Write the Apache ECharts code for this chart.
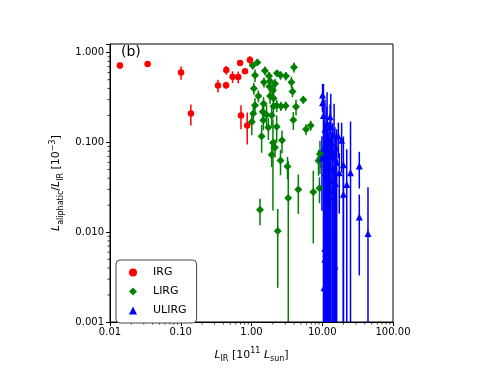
<!DOCTYPE html>
<html>
<head>
<meta charset="utf-8">
<script src="https://cdn.jsdelivr.net/npm/echarts@6/dist/echarts.min.js"></script>
<style>
html, body { margin: 0; padding: 0; background: #fff; }
#chart { width: 490px; height: 368px; }
</style>
</head>
<body>
<div id="chart"></div>
<script>
// each row: [L_IR (1e11 Lsun), L_aliphatic/L_IR (1e-3), error]
const irgData = [
    [0.0138, 0.72, 0.06], [0.034, 0.748, 0.04], [0.101, 0.60, 0.10], [0.139, 0.21, 0.055],
    [0.336, 0.43, 0.07], [0.437, 0.435, 0.04], [0.44, 0.64, 0.07], [0.54, 0.54, 0.08],
    [0.65, 0.537, 0.08], [0.69, 0.77, 0.03], [0.81, 0.62, 0.03], [0.95, 0.83, 0.09],
    [0.71, 0.20, 0.06], [0.87, 0.155, 0.06]
];
const lirgData = [
    [1.04, 0.72, 0.07], [1.21, 0.78, 0.06], [1.12, 0.56, 0.09], [1.55, 0.63, 0.07],
    [1.77, 0.55, 0.06], [1.50, 0.47, 0.06], [1.83, 0.485, 0.07], [2.29, 0.59, 0.05],
    [2.57, 0.56, 0.06], [3.07, 0.55, 0.06], [3.99, 0.69, 0.09], [1.08, 0.40, 0.06],
    [1.79, 0.42, 0.05], [2.15, 0.45, 0.06], [2.01, 0.38, 0.06], [3.67, 0.47, 0.07],
    [3.80, 0.37, 0.05], [1.25, 0.33, 0.05], [1.83, 0.33, 0.06], [2.05, 0.31, 0.07],
    [1.12, 0.26, 0.05], [1.48, 0.27, 0.05], [2.04, 0.254, 0.05], [2.27, 0.258, 0.04],
    [2.61, 0.254, 0.03], [3.04, 0.256, 0.03], [5.40, 0.30, 0.03], [4.26, 0.25, 0.05],
    [1.06, 0.21, 0.05], [1.44, 0.22, 0.04], [1.63, 0.204, 0.06], [1.93, 0.20, 0.05],
    [3.90, 0.178, 0.04], [1.47, 0.177, 0.04], [1.01, 0.17, 0.05], [6.87, 0.155, 0.02],
    [5.89, 0.14, 0.02], [1.73, 0.147, 0.04], [1.39, 0.117, 0.04], [2.27, 0.15, 0.05],
    [2.01, 0.0995, 0.082], [2.70, 0.106, 0.03], [2.15, 0.088, 0.02], [1.93, 0.073, 0.02],
    [2.57, 0.063, 0.02], [3.23, 0.054, 0.015], [1.32, 0.0178, 0.0058], [2.35, 0.0103, 0.0079],
    [3.31, 0.024, 0.038], [4.59, 0.030, 0.014], [7.47, 0.028, 0.0205], [8.85, 0.0625, 0.02],
    [9.29, 0.0745, 0.03], [9.14, 0.031, 0.01], [9.45, 0.067, 0.015]
];
const ulirgData = [
    [10.1, 0.338, 0.11], [10.1, 0.277, 0.06], [12.9, 0.194, 0.07], [11.7, 0.163, 0.2],
    [10.9, 0.140, 0.16], [16.9, 0.117, 0.05], [18.8, 0.106, 0.06], [11.3, 0.0727, 0.09],
    [15.1, 0.0673, 0.08], [19.9, 0.0565, 0.06], [22.2, 0.0341, 0.05], [11.0, 0.0461, 0.05],
    [12.2, 0.0524, 0.07], [12.9, 0.0293, 0.04], [14.3, 0.0246, 0.03], [17.4, 0.0461, 0.03],
    [19.9, 0.0265, 0.03], [25.1, 0.046, 0.125], [33.4, 0.0547, 0.024], [33.4, 0.0148, 0.0115],
    [44.3, 0.0097, 0.022], [10.9, 0.0066, 0.01], [10.9, 0.0050, 0.008], [10.6, 0.0024, 0.004],
    [15.1, 0.0042, 0.006], [11.3, 0.0058, 0.009], [10.6, 0.0867, 0.1], [13.5, 0.0984, 0.03],
    [15.6, 0.0867, 0.03], [12.0, 0.111, 0.04], [9.9, 0.0673, 0.05], [12.9, 0.038, 0.06],
    [11.5, 0.10, 0.15], [12.5, 0.07, 0.1], [13.8, 0.05, 0.08], [14.7, 0.12, 0.15],
    [16.0, 0.06, 0.08], [10.4, 0.20, 0.25], [13.2, 0.15, 0.2], [14.0, 0.075, 0.09],
    [11.9, 0.033, 0.04], [15.4, 0.035, 0.05]
];
const xTicks = [0.01, 0.1, 1, 10, 100];
const yTicks = [0.001, 0.01, 0.1, 1];
const minorSteps = [2, 3, 4, 5, 6, 7, 8, 9];
const xMinorDecades = [0.01, 0.1, 1, 10];
const yMinorDecades = [0.001, 0.01, 0.1];

const font = 'DejaVu Sans';
const xMin = 0.01, xMax = 100, yMin = 0.001, yMax = 1.25;

let xMinor = [];
xMinorDecades.forEach(function (d) { minorSteps.forEach(function (s) { xMinor.push([d * s, yMin]); }); });
let yMinor = [];
yMinorDecades.forEach(function (d) { minorSteps.forEach(function (s) { yMinor.push([xMin, d * s]); }); });

function isTick(v, ticks) {
    for (let i = 0; i < ticks.length; i++) {
        if (Math.abs(v / ticks[i] - 1) < 1e-6) return true;
    }
    return false;
}

function errorBar(name, data, color) {
    return {
        name: name + '_err',
        type: 'custom',
        data: data,
        clip: true,
        silent: true,
        encode: { x: 0, y: 1 },
        renderItem: function (params, api) {
            let x = api.value(0), y = api.value(1), e = api.value(2);
            let lo = y - e > 0 ? y - e : 1e-6;
            let top = api.coord([x, y + e]);
            let bot = api.coord([x, lo]);
            return {
                type: 'line',
                shape: { x1: top[0], y1: top[1], x2: bot[0], y2: bot[1] },
                style: { stroke: color, lineWidth: 1.5 }
            };
        }
    };
}

function minorTicks(data, horizontal) {
    return {
        type: 'custom',
        data: data,
        clip: false,
        silent: true,
        renderItem: function (params, api) {
            let p = api.coord([api.value(0), api.value(1)]);
            let shape = horizontal
                ? { x1: p[0], y1: p[1], x2: p[0], y2: p[1] + 2.5 }
                : { x1: p[0], y1: p[1], x2: p[0] - 2.5, y2: p[1] };
            return { type: 'line', shape: shape, style: { stroke: '#000', lineWidth: 0.8 } };
        }
    };
}

let chart = echarts.init(document.getElementById('chart'));
const nameRich = {
    i: { fontStyle: 'italic', fontSize: 11, fontFamily: font, lineHeight: 16, color: '#000' },
    n: { fontSize: 11, fontFamily: font, lineHeight: 16, color: '#000' },
    sub: { fontSize: 8, fontFamily: font, lineHeight: 8, verticalAlign: 'bottom', color: '#000' },
    sup: { fontSize: 8, fontFamily: font, lineHeight: 8, verticalAlign: 'top', color: '#000' }
};
chart.setOption({
    animation: false,
    grid: { left: 110, top: 44, width: 283, height: 283, show: true, borderColor: '#000', borderWidth: 1 },
    xAxis: {
        type: 'log',
        logBase: 10,
        min: xMin,
        max: xMax,
        name: '{i|L}{sub|IR}{n| [10}{sup|11}{n| }{i|L}{sub|sun}{n|]}',
        nameLocation: 'middle',
        nameGap: 25,
        nameTextStyle: { rich: nameRich },
        axisLine: { lineStyle: { color: '#000', width: 1 } },
        axisTick: { length: 4, lineStyle: { color: '#000' } },
        splitLine: { show: false },
        axisLabel: {
            fontSize: 10, fontFamily: font, color: '#000', margin: 5,
            formatter: function (v) { return isTick(v, xTicks) ? v.toFixed(2) : ''; }
        }
    },
    yAxis: {
        type: 'log',
        logBase: 10,
        min: yMin,
        max: yMax,
        name: '{i|L}{sub|aliphatic}{n|/}{i|L}{sub|IR}{n| [10}{sup|−3}{n|]}',
        nameLocation: 'middle',
        nameGap: 40,
        nameTextStyle: { rich: nameRich },
        axisLine: { lineStyle: { color: '#000', width: 1 } },
        axisTick: { length: 4, lineStyle: { color: '#000' } },
        splitLine: { show: false },
        axisLabel: {
            fontSize: 10, fontFamily: font, color: '#000', margin: 6,
            formatter: function (v) { return isTick(v, yTicks) ? v.toFixed(3) : ''; }
        }
    },
    legend: {
        orient: 'vertical',
        left: 116,
        top: 260,
        data: [
            { name: 'IRG', icon: 'circle' },
            { name: 'LIRG', icon: 'diamond' },
            { name: 'ULIRG', icon: 'triangle' }
        ],
        itemWidth: 8,
        itemHeight: 8,
        itemGap: 4,
        borderColor: '#444',
        borderWidth: 1,
        borderRadius: 4,
        padding: [5, 10, 5, 13],
        backgroundColor: '#fff',
        textStyle: { fontSize: 11, fontFamily: font, color: '#000', padding: [0, 0, 0, 11], lineHeight: 15 }
    },
    graphic: [
        { type: 'text', left: 121, top: 45, style: { text: '(b)', fontSize: 14, fontFamily: font, fill: '#000' } }
    ],
    series: [
        minorTicks(xMinor, true),
        minorTicks(yMinor, false),
        errorBar('IRG', irgData, '#ff0000'),
        { name: 'IRG', type: 'scatter', data: irgData, symbol: 'circle', symbolSize: 6.5,
          itemStyle: { color: '#ff0000', opacity: 1 }, encode: { x: 0, y: 1 } },
        errorBar('LIRG', lirgData, '#008000'),
        { name: 'LIRG', type: 'scatter', data: lirgData, symbol: 'diamond', symbolSize: 8,
          itemStyle: { color: '#008000', opacity: 1 }, encode: { x: 0, y: 1 } },
        errorBar('ULIRG', ulirgData, '#0000ff'),
        { name: 'ULIRG', type: 'scatter', data: ulirgData, symbol: 'triangle', symbolSize: 7,
          itemStyle: { color: '#0000ff', opacity: 1 }, encode: { x: 0, y: 1 } }
    ]
});
</script>
</body>
</html>
